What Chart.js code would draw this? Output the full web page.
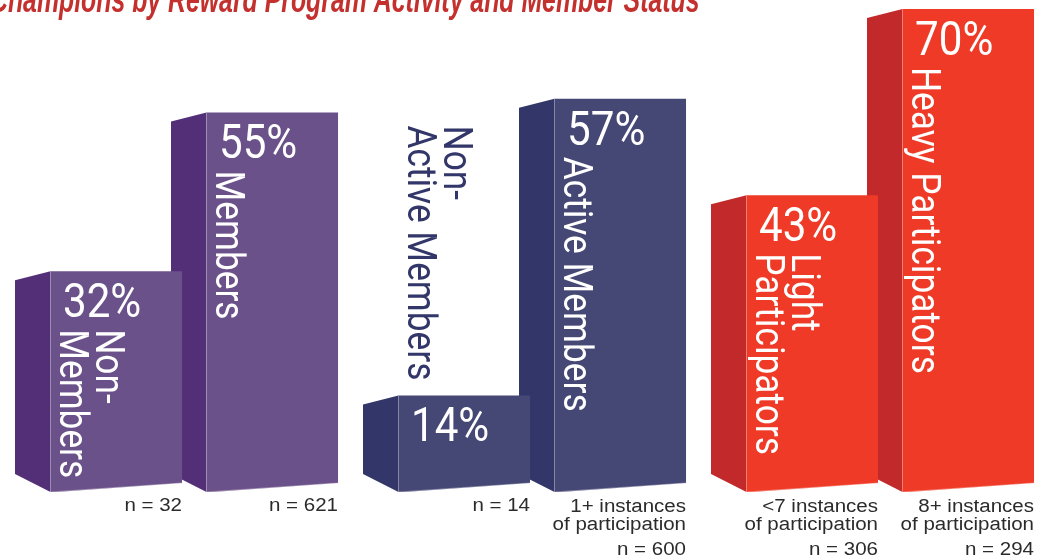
<!DOCTYPE html>
<html><head><meta charset="utf-8">
<script src="https://cdn.jsdelivr.net/npm/chart.js@4.4.1/dist/chart.umd.min.js"></script>
<style>html,body{margin:0;padding:0;background:#fff;overflow:hidden}canvas{display:block}</style>
</head><body>
<canvas id="c" width="1047" height="558"></canvas>
<script>
const title = 'Champions by Reward Program Activity and Member Status';
const groups = ['Membership', 'Program activity', 'Participation level'];
const lowNames = [['Non-', 'Members'], ['Non-', 'Active Members'], ['Light', 'Participators']];
const highNames = [['Members'], ['Active Members'], ['Heavy Participators']];
const lowValues = [32, 14, 43];
const highValues = [55, 57, 70];
const lowCounts = [32, 14, 306];
const highCounts = [621, 600, 294];
const lowNotes = [[], [], ['<7 instances', 'of participation']];
const highNotes = [[], ['1+ instances', 'of participation'], ['8+ instances', 'of participation']];

const frontColors = ['#6B5189', '#454775', '#EE3A26'];
const sideColors = ['#522F77', '#323668', '#C1292A'];
const titleColor = '#C4302D';
const noteColor = '#2b2b2b';

const DEPTH = 35, TOP_DROP = 9, BOT_RISE = 18, FRONT_SLANT = 9;
const COND = 0.86;

const bars3d = {
  id: 'bars3d',
  beforeDatasetsDraw(chart) {
    const ctx = chart.ctx;
    ctx.save();
    chart.data.datasets.forEach((ds, di) => {
      chart.getDatasetMeta(di).data.forEach((bar, i) => {
        const L = bar.x - bar.width / 2, T = bar.y, B = bar.base;
        ctx.fillStyle = sideColors[i];
        ctx.beginPath();
        ctx.moveTo(L - DEPTH, T + TOP_DROP);
        ctx.lineTo(L + 0.5, T);
        ctx.lineTo(L + 0.5, B);
        ctx.lineTo(L - DEPTH, B - BOT_RISE);
        ctx.closePath();
        ctx.fill();
      });
    });
    ctx.restore();
  },
  afterDatasetsDraw(chart) {
    const ctx = chart.ctx;
    ctx.save();
    chart.data.datasets.forEach((ds, di) => {
      chart.getDatasetMeta(di).data.forEach((bar, i) => {
        const L = bar.x - bar.width / 2, R = bar.x + bar.width / 2, T = bar.y, B = bar.base;
        // perspective cut of the bottom edge
        ctx.fillStyle = '#fff';
        ctx.beginPath();
        ctx.moveTo(L, B + 0.5);
        ctx.lineTo(R + 0.6, B - FRONT_SLANT);
        ctx.lineTo(R + 0.6, B + 3);
        ctx.lineTo(L, B + 3);
        ctx.closePath();
        ctx.fill();
        // light edges
        ctx.strokeStyle = 'rgba(255,255,255,0.35)';
        ctx.lineWidth = 1;
        ctx.beginPath();
        ctx.moveTo(L + 0.5, T);
        ctx.lineTo(L + 0.5, B);
        ctx.lineTo(R, B - FRONT_SLANT);
        ctx.stroke();

        const v = ds.data[i].y;
        // percentage
        ctx.fillStyle = '#fff';
        ctx.font = '400 49px Roboto';
        ctx.textAlign = 'left';
        ctx.textBaseline = 'alphabetic';
        ctx.save();
        ctx.translate(L + 13, T + 46);
        ctx.scale(COND, 1);
        ctx.fillText(v + '%', 0, 0);
        ctx.restore();

        // rotated category name
        const lines = ds.names[i];
        ctx.font = '400 41px Roboto';
        const len = Math.max(...lines.map(s => ctx.measureText(s).width)) * COND;
        let startY = T + 58, color = '#fff';
        if (startY + len > B - 10) { startY = T - 15 - len; color = sideColors[i]; }
        ctx.fillStyle = color;
        lines.forEach((s, li) => {
          ctx.save();
          ctx.translate(L + 10 + (lines.length - 1 - li) * 36, startY);
          ctx.rotate(Math.PI / 2);
          ctx.scale(COND, 1);
          ctx.fillText(s, 0, 0);
          ctx.restore();
        });

        // notes and counts below
        ctx.fillStyle = noteColor;
        ctx.font = '18px "Liberation Sans", Arial, sans-serif';
        ctx.textAlign = 'right';
        const notes = ds.notes[i];
        const rows = notes.length ? [[notes[0], 512], [notes[1], 530], ['n = ' + ds.counts[i], 555]]
                                  : [['n = ' + ds.counts[i], 511]];
        rows.forEach(([s, y]) => {
          ctx.save();
          ctx.translate(R, y);
          ctx.scale(1.14, 1);
          ctx.fillText(s, 0, 0);
          ctx.restore();
        });
      });
    });
    // title (cropped at the top, as in the source)
    ctx.fillStyle = titleColor;
    ctx.font = 'italic bold 36px "Liberation Sans", Arial, sans-serif';
    ctx.textAlign = 'left';
    ctx.save();
    ctx.translate(-10, 12);
    ctx.scale(0.69, 1);
    ctx.fillText(title, 0, 0);
    ctx.restore();
    ctx.restore();
  }
};

const mk = (vals) => vals.map((v, i) => ({ x: i, y: v }));

new Chart(document.getElementById('c'), {
  type: 'bar',
  data: {
    labels: groups,
    datasets: [
      { label: 'Lower', data: mk(lowValues), backgroundColor: frontColors, names: lowNames, counts: lowCounts, notes: lowNotes,
        categoryPercentage: 0.8966, barPercentage: 0.8462, borderWidth: 0 },
      { label: 'Higher', data: mk(highValues), backgroundColor: frontColors, names: highNames, counts: highCounts, notes: highNotes,
        categoryPercentage: 0.8966, barPercentage: 0.8462, borderWidth: 0 }
    ]
  },
  options: {
    responsive: false,
    animation: false,
    events: [],
    layout: { padding: { left: 0, right: 0, top: 0, bottom: 66 } },
    plugins: { legend: { display: false }, tooltip: { enabled: false }, title: { display: false } },
    scales: {
      x: { type: 'linear', display: false, offset: false, min: -0.5575, max: 2.4511,
           ticks: { stepSize: 1, includeBounds: false }, grid: { display: false } },
      y: { display: false, min: 0, max: 71.3, grid: { display: false } }
    }
  },
  plugins: [bars3d]
});
</script>
</body></html>
